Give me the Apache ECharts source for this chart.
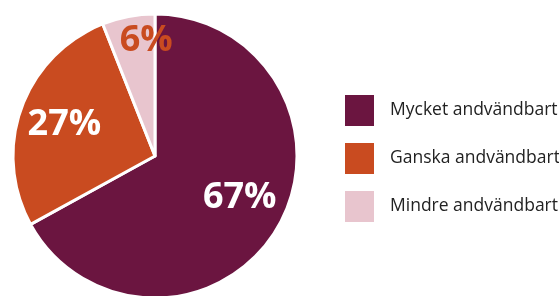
<!DOCTYPE html>
<html>
<head>
<meta charset="utf-8">
<script src="https://cdn.jsdelivr.net/npm/echarts@6/dist/echarts.min.js"></script>
<style>
html, body { margin: 0; padding: 0; background: #fff; }
#main { width: 559px; height: 296px; }
</style>
</head>
<body>
<div id="main"></div>
<script>
// kategorier och andelar (procent)
var categories = ['Mycket andvändbart', 'Ganska andvändbart', 'Mindre andvändbart'];
var shares = [67, 27, 6];
var colors = ['#6b1540', '#c94b20', '#e8c5ce'];
var labelColors = ['#ffffff', '#ffffff', '#c94b20'];
// flytta etiketterna lite från standardläget
var labelOffsets = [[21, 4], [-21, -6], [5, -43]];

var chart = echarts.init(document.getElementById('main'));

var pieData = [];
for (var i = 0; i < categories.length; i++) {
	pieData.push({
		name: categories[i],
		value: shares[i],
		itemStyle: { color: colors[i] },
		label: { color: labelColors[i], offset: labelOffsets[i] }
	});
}

var option = {
	animation: false,
	legend: {
		orient: 'vertical',
		left: 345,
		top: 95,
		padding: 0,
		itemWidth: 29,
		itemHeight: 31,
		itemGap: 17,
		icon: 'rect',
		itemStyle: { borderWidth: 0 },
		textStyle: {
			fontFamily: 'Open Sans',
			fontSize: 17.5,
			color: '#222',
			padding: [0, 0, 0, 11]
		},
		data: categories
	},
	series: [
		{
			type: 'pie',
			center: [155, 156],
			radius: [0, 142],
			startAngle: 90,
			clockwise: true,
			itemStyle: { borderColor: '#fff', borderWidth: 3 },
			label: {
				show: true,
				position: 'inside',
				fontFamily: 'Open Sans',
				fontWeight: 'bold',
				fontSize: 36,
				formatter: '{c}%'
			},
			labelLine: { show: false },
			emphasis: { disabled: true },
			data: pieData
		}
	]
};
chart.setOption(option);
</script>
</body>
</html>
